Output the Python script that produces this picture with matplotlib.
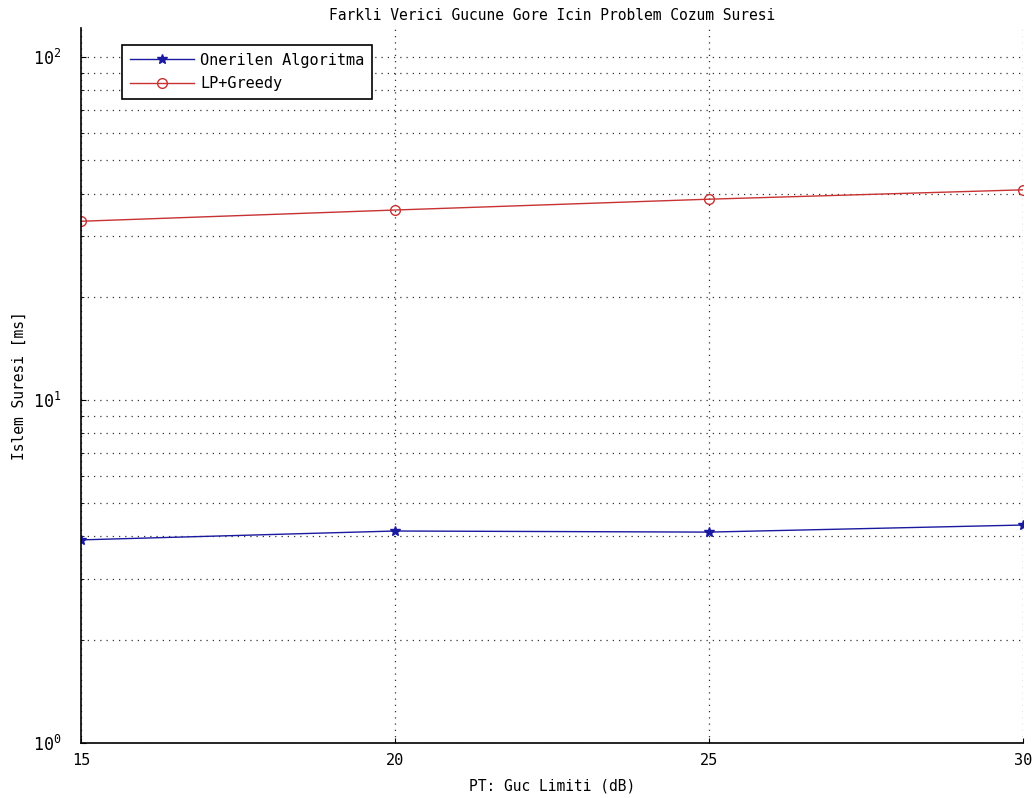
import matplotlib
matplotlib.use("Agg")
import matplotlib.pyplot as plt

# Data
pt_db = [15, 20, 25, 30]
onerilen = [3.91, 4.15, 4.12, 4.32]
lp_greedy = [33.2, 35.8, 38.5, 41.0]

plt.rcParams['font.family'] = ['DejaVu Sans Mono']
plt.rcParams['font.size'] = 10.5

fig = plt.figure(figsize=(10.35, 7.98), dpi=100)
ax = fig.add_axes([81 / 1035, 1 - 743 / 798, (1023 - 81) / 1035, (743 - 28) / 798])

ax.plot(pt_db, onerilen, color='#1a1aa0', linewidth=1, marker='*', markersize=7,
        label='Onerilen Algoritma')
ax.plot(pt_db, lp_greedy, color='#c83232', linewidth=1, marker='o', markersize=7,
        markerfacecolor='none', label='LP+Greedy')

ax.set_yscale('log')
ax.set_xlim(15, 30)
ax.set_ylim(1, 121.5)
ax.set_xticks(pt_db)

grid_style = dict(linestyle=(0, (1, 4)), color='#333333', linewidth=0.9)
ax.grid(True, which='major', **grid_style)
ax.grid(True, which='minor', axis='y', **grid_style)
ax.tick_params(which='both', direction='in', labelsize=11)
ax.tick_params(axis='y', which='major', pad=14, labelsize=12)
ax.tick_params(axis='x', which='major', pad=7)

ax.spines['top'].set_visible(False)
ax.spines['right'].set_visible(False)
ax.spines['left'].set_linewidth(1.2)
ax.spines['bottom'].set_linewidth(1.2)

ax.set_title('Farkli Verici Gucune Gore Icin Problem Cozum Suresi', fontsize=10.5, pad=6)
ax.set_xlabel('PT: Guc Limiti (dB)', fontsize=10.5, labelpad=8)
ax.set_ylabel('Islem Suresi [ms]', fontsize=10.5)
ax.yaxis.set_label_coords(-0.058, 0.5)

leg = ax.legend(loc='upper left', bbox_to_anchor=(0.044, 0.976), fancybox=False,
                framealpha=1, edgecolor='black', borderaxespad=0, handlelength=4.2,
                fontsize=11, borderpad=0.5, labelspacing=0.55, handletextpad=0.4)
leg.get_frame().set_linewidth(1.2)

plt.savefig('out.png', dpi=100)
plt.close()
